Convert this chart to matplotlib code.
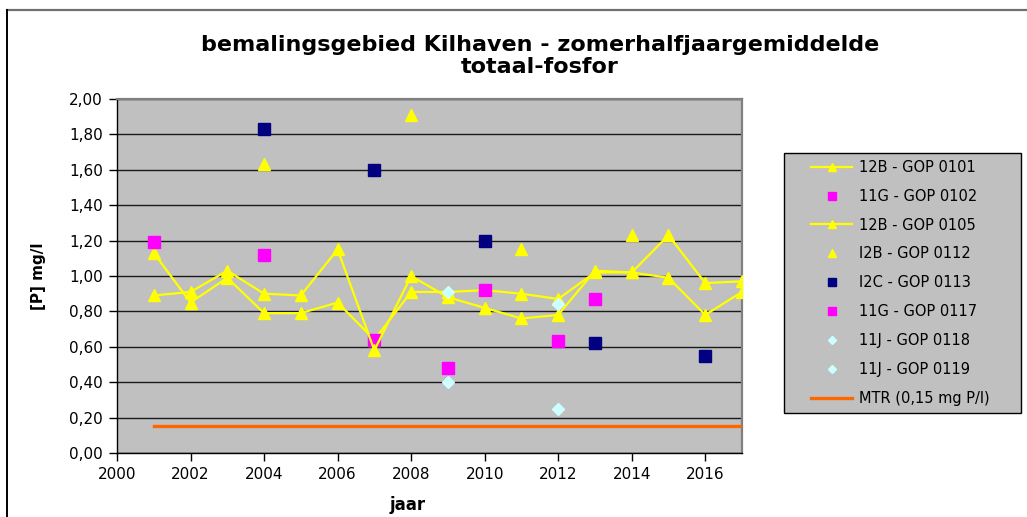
import matplotlib
matplotlib.use("Agg")
import matplotlib.pyplot as plt
from matplotlib.lines import Line2D
from matplotlib.patches import Rectangle

# Data
years = list(range(2001, 2018))
gop_0101 = [1.13, 0.85, 0.99, 0.79, 0.79, 0.85, 0.64, 0.91, 0.91, 0.92,
            0.90, 0.87, 1.02, 1.02, 0.99, 0.78, 0.91]
gop_0105 = [0.89, 0.91, 1.03, 0.90, 0.89, 1.15, 0.58, 1.00, 0.88, 0.82,
            0.76, 0.78, 1.03, 1.02, 1.23, 0.96, 0.97]

years_0102 = [2001, 2004, 2007]
gop_0102 = [1.19, 1.12, 0.64]

years_0112 = [2004, 2008, 2011, 2014]
gop_0112 = [1.63, 1.91, 1.15, 1.23]

years_0113 = [2004, 2007, 2010, 2013, 2016]
gop_0113 = [1.83, 1.60, 1.20, 0.62, 0.55]

years_0117 = [2009, 2010, 2012, 2013]
gop_0117 = [0.48, 0.92, 0.63, 0.87]

years_0118 = [2009, 2012]
gop_0118 = [0.91, 0.84]

years_0119 = [2009, 2012]
gop_0119 = [0.40, 0.25]

years_mtr = [2001, 2017]
mtr = [0.15, 0.15]

labels = ["12B - GOP 0101", "11G - GOP 0102", "12B - GOP 0105",
          "I2B - GOP 0112", "I2C - GOP 0113", "11G - GOP 0117",
          "11J - GOP 0118", "11J - GOP 0119", "MTR (0,15 mg P/l)"]
yticks = [0.0, 0.2, 0.4, 0.6, 0.8, 1.0, 1.2, 1.4, 1.6, 1.8, 2.0]
xticks = list(range(2000, 2017, 2))

W, H = 1027, 517
fig = plt.figure(figsize=(W / 100, H / 100), dpi=100)
fig.patch.set_facecolor("white")

# outer chart frame (cropped at right and bottom)
fig.add_artist(Line2D([6.5 / W, 1], [1 - 10 / H, 1 - 10 / H], color="#707070", lw=1.6))
fig.add_artist(Line2D([6.5 / W, 6.5 / W], [0, 1 - 10 / H], color="black", lw=1.4))

ax = fig.add_axes([117 / W, 1 - 453 / H, 625 / W, 354 / H])
ax.set_facecolor("#C0C0C0")

yel = "#FFFF00"
h1, = ax.plot(years, gop_0101, color=yel, lw=1.6, marker="^", ms=8, zorder=3)
h2, = ax.plot(years_0102, gop_0102, ls="none", color="#FF00FF", marker="s", ms=8, zorder=4)
h3, = ax.plot(years, gop_0105, color=yel, lw=1.6, marker="^", ms=8, zorder=5)
h4, = ax.plot(years_0112, gop_0112, ls="none", color=yel, marker="^", ms=8, zorder=5)
h5, = ax.plot(years_0113, gop_0113, ls="none", color="#000080", marker="s", ms=8, zorder=6)
h6, = ax.plot(years_0117, gop_0117, ls="none", color="#FF00FF", marker="s", ms=8, zorder=6)
h7, = ax.plot(years_0118, gop_0118, ls="none", color="#CCFFFF", marker="D", ms=6, zorder=7)
h8, = ax.plot(years_0119, gop_0119, ls="none", color="#CCFFFF", marker="D", ms=6, zorder=7)
h9, = ax.plot(years_mtr, mtr, color="#FF6600", lw=2.4, zorder=3)

ax.set_xlim(2000, 2017)
ax.set_ylim(0, 2.0)
ax.set_yticks(yticks)
ax.set_yticklabels([f"{v:.2f}".replace(".", ",") for v in yticks])
ax.set_xticks(xticks)
ax.set_xticklabels([str(x) for x in xticks])
ax.yaxis.grid(True, color="#1a1a1a", lw=1.0)
ax.set_axisbelow(True)
ax.tick_params(axis="both", direction="out", length=6, width=1, color="black",
               labelsize=11, pad=4)

for s in ("top", "right"):
    ax.spines[s].set_color("#808080")
    ax.spines[s].set_linewidth(1.6)
for s in ("left", "bottom"):
    ax.spines[s].set_color("black")
    ax.spines[s].set_linewidth(1.0)

fig.text(540 / W, 1 - 56 / H,
         "bemalingsgebied Kilhaven - zomerhalfjaargemiddelde\ntotaal-fosfor",
         ha="center", va="center", fontsize=16, fontweight="bold",
         linespacing=1.15)
fig.text(38 / W, 1 - 276 / H, "[P] mg/l", rotation=90, ha="center", va="center",
         fontsize=11, fontweight="bold")
fig.text(408 / W, 1 - 505 / H, "jaar", ha="center", va="center",
         fontsize=12, fontweight="bold")

# legend box
fig.add_artist(Rectangle((784 / W, 1 - 413 / H), 237 / W, 260 / H,
                         transform=fig.transFigure, facecolor="#C0C0C0",
                         edgecolor="black", lw=1.0))
fig.legend([h1, h2, h3, h4, h5, h6, h7, h8, h9], labels,
           loc="upper left", bbox_to_anchor=(804 / W, 1 - 152.5 / H),
           frameon=False, fontsize=10.5, borderpad=0, labelspacing=0.95,
           handlelength=2.8, handletextpad=0.45, markerscale=0.7)

fig.savefig("out.png", dpi=100)
